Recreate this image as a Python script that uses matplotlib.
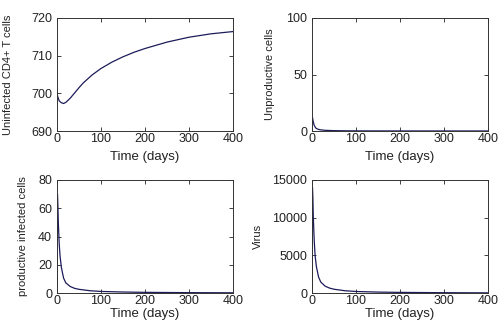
import matplotlib
matplotlib.use("Agg")
import matplotlib.pyplot as plt

plt.rcParams['font.family'] = ['Liberation Sans', 'DejaVu Sans']

t_cd4 = [0, 2, 5, 10, 15, 20, 30, 40, 50, 60, 80, 100, 125, 150, 175, 200, 250, 300, 350, 400]
cd4 = [700.0, 699.0, 698.0, 697.5, 697.3, 697.6, 698.7, 700.1, 701.5, 702.8, 704.9, 706.6,
       708.3, 709.7, 710.9, 711.9, 713.6, 714.9, 715.8, 716.4]

t_unp = [0, 1, 2, 3, 5, 8, 10, 15, 20, 30, 50, 80, 100, 200, 300, 400]
unp = [0, 12, 10, 8, 5, 3, 2.2, 1.4, 1.0, 0.6, 0.3, 0.15, 0.1, 0.05, 0.03, 0.02]

t_prod = [0, 1, 2, 3, 5, 7, 10, 15, 20, 30, 40, 50, 75, 100, 150, 200, 300, 400]
prod = [0, 70, 62, 50, 35, 26, 18, 10.5, 7.2, 4.6, 3.3, 2.6, 1.6, 1.1, 0.7, 0.45, 0.25, 0.15]

t_vir = [0, 1, 2, 3, 5, 7, 10, 15, 20, 30, 40, 50, 75, 100, 150, 200, 300, 400]
vir = [0, 14000, 12500, 10000, 7000, 5000, 3500, 2100, 1450, 900, 650, 500, 300, 200, 120, 80, 40, 20]

line_c = '#1c1c5a'

fig = plt.figure(figsize=(4.99, 3.20), dpi=100)

# rect, t, y, ylim, yticks, ylabel, ylabel x, xlabel y (axes coords)
panels = [
    ([57/499, 1 - 131/320, 176/499, 113/320], t_cd4, cd4, (690, 720), [690, 700, 710, 720],
     'Uninfected CD4+ T cells', -0.25, -0.18),
    ([312/499, 1 - 131/320, 176/499, 113/320], t_unp, unp, (0, 100), [0, 50, 100],
     'Unproductive cells', -0.21, -0.18),
    ([57/499, 1 - 293/320, 176/499, 113/320], t_prod, prod, (0, 80), [0, 20, 40, 60, 80],
     'productive infected cells', -0.165, -0.135),
    ([312/499, 1 - 293/320, 176/499, 113/320], t_vir, vir, (0, 15000), [0, 5000, 10000, 15000],
     'Virus', -0.28, -0.135),
]

for rect, t, y, ylim, yticks, ylab, ylx, xly in panels:
    ax = fig.add_axes(rect)
    ax.plot(t, y, color=line_c, lw=0.9)
    ax.set_xlim(0, 400)
    ax.set_ylim(*ylim)
    ax.set_xticks([0, 100, 200, 300, 400])
    ax.set_yticks(yticks)
    ax.tick_params(direction='in', top=True, right=True, length=3, width=0.6,
                   labelsize=9, colors='#222222')
    ax.tick_params(axis='x', pad=1.5)
    ax.tick_params(axis='y', pad=3.5)
    for s in ax.spines.values():
        s.set_linewidth(0.7)
        s.set_color('#333333')
    ax.set_xlabel('Time (days)', fontsize=9.5, color='#222222')
    ax.xaxis.set_label_coords(0.5, xly)
    ax.set_ylabel(ylab, fontsize=8, color='#222222')
    ax.yaxis.set_label_coords(ylx, 0.5)

fig.savefig('out.png', dpi=100)
